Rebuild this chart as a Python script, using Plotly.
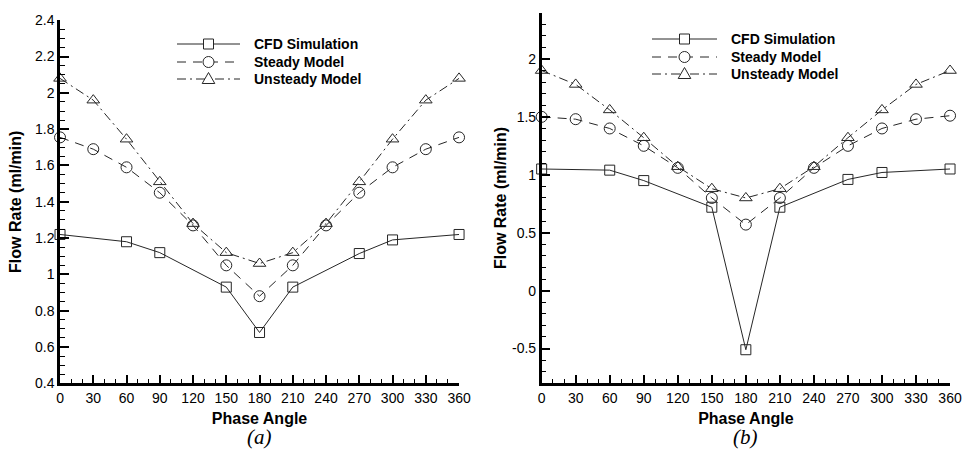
import plotly.graph_objects as go

# ---------------- data ----------------
phase_cfd = [0, 60, 90, 150, 180, 210, 270, 300, 360]
phase_model = [0, 30, 60, 90, 120, 150, 180, 210, 240, 270, 300, 330, 360]

cfd_a = [1.22, 1.18, 1.12, 0.93, 0.68, 0.93, 1.115, 1.19, 1.22]
steady_a = [1.755, 1.69, 1.59, 1.45, 1.27, 1.05, 0.88, 1.05, 1.27, 1.45, 1.59, 1.69, 1.755]
unsteady_a = [2.08, 1.96, 1.745, 1.51, 1.28, 1.12, 1.06, 1.12, 1.28, 1.51, 1.745, 1.96, 2.08]

cfd_b = [1.05, 1.04, 0.95, 0.72, -0.51, 0.72, 0.96, 1.02, 1.05]
steady_b = [1.50, 1.48, 1.40, 1.25, 1.06, 0.80, 0.57, 0.80, 1.06, 1.25, 1.40, 1.48, 1.51]
unsteady_b = [1.90, 1.78, 1.56, 1.32, 1.07, 0.88, 0.80, 0.88, 1.07, 1.32, 1.56, 1.78, 1.90]

series_names = ["CFD Simulation", "Steady Model", "Unsteady Model"]

x_tickvals = [0, 30, 60, 90, 120, 150, 180, 210, 240, 270, 300, 330, 360]
x_ticktext = ["0", "30", "60", "90", "120", "150", "180", "210", "240", "270", "300", "330", "360"]
ya_tickvals = [0.4, 0.6, 0.8, 1.0, 1.2, 1.4, 1.6, 1.8, 2.0, 2.2, 2.4]
ya_ticktext = ["0.4", "0.6", "0.8", "1", "1.2", "1.4", "1.6", "1.8", "2", "2.2", "2.4"]
yb_tickvals = [-0.5, 0, 0.5, 1, 1.5, 2]
yb_ticktext = ["-0.5", "0", "0.5", "1", "1.5", "2"]

# ---------------- styling ----------------
W, H = 965, 460
LC = "#262626"
FONT = "Liberation Sans, Arial, sans-serif"
styles = [
    dict(dash="solid", symbol="square-open", size=10),
    dict(dash="9px,7px", symbol="circle-open", size=11),
    dict(dash="9px,4px,2px,4px", symbol="triangle-up-open", size=11),
]

fig = go.Figure()

panels = [
    ("x", "y", [cfd_a, steady_a, unsteady_a]),
    ("x2", "y2", [cfd_b, steady_b, unsteady_b]),
]
for xa, ya, vals in panels:
    for i, (name, v) in enumerate(zip(series_names, vals)):
        xs = phase_cfd if i == 0 else phase_model
        st = styles[i]
        fig.add_trace(go.Scatter(
            x=xs, y=v, name=name, mode="lines+markers",
            xaxis=xa, yaxis=ya, cliponaxis=False, showlegend=False,
            line=dict(color=LC, width=1, dash=st["dash"]),
            marker=dict(symbol=st["symbol"], size=st["size"],
                        color=LC, line=dict(color=LC, width=1)),
        ))

def xaxis_common(domain, anchor):
    return dict(
        domain=domain, anchor=anchor, range=[0, 360], automargin=False,
        tickmode="array", tickvals=x_tickvals, ticktext=x_ticktext,
        showline=True, linewidth=2.5, linecolor="black", mirror=False,
        ticks="inside", ticklen=9, tickwidth=2, tickcolor="black",
        minor=dict(dtick=10, tick0=0, ticks="inside", ticklen=5, tickwidth=1, tickcolor="black"),
        showgrid=False, zeroline=False,
        tickfont=dict(family=FONT, size=14, color="black"),
        title=dict(text="<b>Phase Angle</b>", font=dict(family=FONT, size=16, color="black"), standoff=8),
    )

def yaxis_common(domain, anchor, rng, tv, tt, minor_dtick, minor_tick0, standoff):
    return dict(
        domain=domain, anchor=anchor, range=rng, automargin=False,
        tickmode="array", tickvals=tv, ticktext=tt,
        showline=True, linewidth=2.5, linecolor="black", mirror=False,
        ticks="inside", ticklen=9, tickwidth=2, tickcolor="black",
        minor=dict(dtick=minor_dtick, tick0=minor_tick0, ticks="inside", ticklen=5, tickwidth=1, tickcolor="black"),
        showgrid=False, zeroline=False,
        tickfont=dict(family=FONT, size=14, color="black"),
        title=dict(text="<b>Flow Rate (ml/min)</b>", font=dict(family=FONT, size=16, color="black"), standoff=standoff),
    )

# ---------------- custom legends (layout only) ----------------
shapes = []
annotations = []

def px(x):
    return x / W

def py(y):
    return 1 - y / H

legend_specs = [
    dict(x0=177, x1=240, xm=208.5, xt=252, rows=[44, 62, 79]),
    dict(x0=652, x1=717, xm=684.5, xt=729, rows=[39, 57, 74]),
]
for spec in legend_specs:
    for i, name in enumerate(series_names):
        yy = spec["rows"][i]
        st = styles[i]
        shapes.append(dict(type="line", xref="paper", yref="paper",
                           x0=px(spec["x0"]), x1=px(spec["x1"]), y0=py(yy), y1=py(yy),
                           line=dict(color=LC, width=1, dash=st["dash"])))
        xm = spec["xm"]
        if i == 0:
            shapes.append(dict(type="rect", xref="paper", yref="paper",
                               x0=px(xm - 5), x1=px(xm + 5), y0=py(yy + 5), y1=py(yy - 5),
                               line=dict(color=LC, width=1), fillcolor="white"))
        elif i == 1:
            shapes.append(dict(type="circle", xref="paper", yref="paper",
                               x0=px(xm - 5.5), x1=px(xm + 5.5), y0=py(yy + 5.5), y1=py(yy - 5.5),
                               line=dict(color=LC, width=1), fillcolor="white"))
        else:
            path = "M {} {} L {} {} L {} {} Z".format(
                px(xm - 6.3), py(yy + 4.5), px(xm + 6.3), py(yy + 4.5), px(xm), py(yy - 6.5))
            shapes.append(dict(type="path", xref="paper", yref="paper", path=path,
                               line=dict(color=LC, width=1), fillcolor="white"))
        annotations.append(dict(text="<b>" + name + "</b>", x=px(spec["xt"]), y=py(yy),
                                xref="paper", yref="paper", showarrow=False,
                                xanchor="left", yanchor="middle",
                                font=dict(family=FONT, size=14, color="black")))

for lab, xc in [("(a)", 259.5), ("(b)", 745)]:
    annotations.append(dict(text="<i>" + lab + "</i>", x=px(xc), y=py(437), xref="paper", yref="paper",
                            showarrow=False, xanchor="center", yanchor="middle",
                            font=dict(family="Liberation Serif, Times New Roman, serif", size=21, color="black")))

fig.update_layout(
    width=W, height=H,
    margin=dict(l=0, r=0, t=0, b=0),
    paper_bgcolor="white", plot_bgcolor="white",
    font=dict(family=FONT, color="black"),
    showlegend=False,
    xaxis=xaxis_common([0.0622, 0.4757], "y"),
    yaxis=yaxis_common([0.1667, 0.9559], "x", [0.4, 2.4], ya_tickvals, ya_ticktext, 0.05, 0.4, 10),
    xaxis2=xaxis_common([0.5613, 0.9845], "y2"),
    yaxis2=yaxis_common([0.1667, 0.9726], "x2", [-0.8, 2.4], yb_tickvals, yb_ticktext, 0.1, 0, 2),
    shapes=shapes,
    annotations=annotations,
)

fig.write_html("out.html")
